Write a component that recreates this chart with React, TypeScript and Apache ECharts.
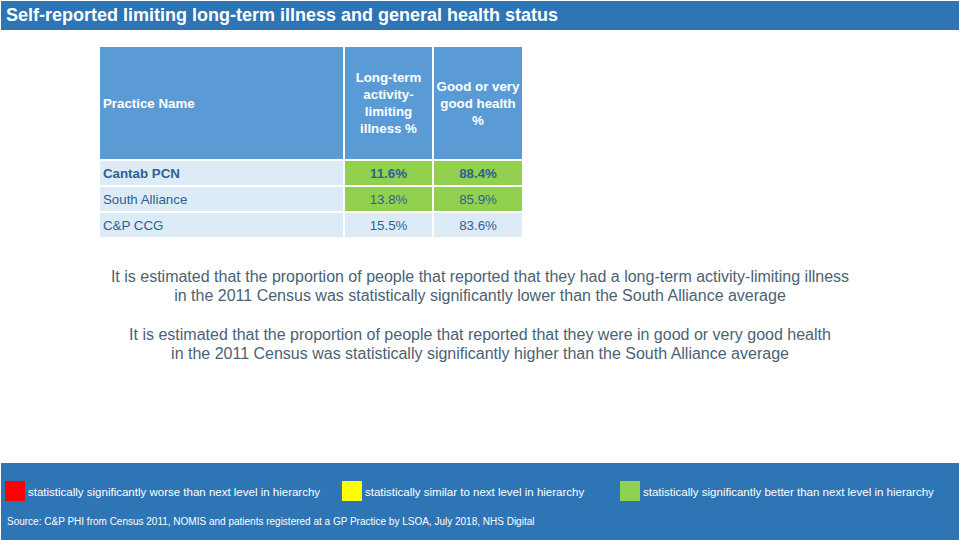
import React, { useEffect, useRef } from "react";
import * as echarts from "echarts";

const titleText = "Self-reported limiting long-term illness and general health status";
const headers = ["Practice Name", "Long-term\nactivity-\nlimiting\nillness %", "Good or very\ngood health\n%"];
const practices = ["Cantab PCN", "South Alliance", "C&P CCG"];
const illnessPct = [11.6, 13.8, 15.5];
const goodHealthPct = [88.4, 85.9, 83.6];
const illnessSig = ["better", "better", "none"];
const goodHealthSig = ["better", "better", "none"];
const paragraphs = [
  "It is estimated that the proportion of people that reported that they had a long-term activity-limiting illness\nin the 2011 Census was statistically significantly lower than the South Alliance average",
  "It is estimated that the proportion of people that reported that they were in good or very good health\nin the 2011 Census was statistically significantly higher than the South Alliance average",
];
const legendItems = [
  { label: "statistically significantly worse than next level in hierarchy", color: "#FF0000" },
  { label: "statistically similar to next level in hierarchy", color: "#FFFF00" },
  { label: "statistically significantly better than next level in hierarchy", color: "#92D050" },
];
const sourceText = "Source: C&P PHI from Census 2011, NOMIS and patients registered at a GP Practice by LSOA, July 2018, NHS Digital";

const sigColors: Record<string, string> = { better: "#92D050", similar: "#FFFF00", worse: "#FF0000", none: "#DDEBF7" };

// layout of table in axis units
const colEdges = [0, 245, 334, 424];
const rowEdges = [0, 114, 140, 166, 192];

const FONT = "Arial, 'Liberation Sans', sans-serif";

export default function App() {
  const ref = useRef<HTMLDivElement>(null);
  useEffect(() => {
    if (!ref.current) return;
    const chart = echarts.init(ref.current, null, { renderer: "svg" });

    const cells: any[] = [];
    headers.forEach((h, c) => cells.push([c, 0, h, "#5B9BD5", "header"]));
    practices.forEach((p, i) => {
      cells.push([0, i + 1, p, "#DDEBF7", i === 0 ? "nameBold" : "name"]);
      cells.push([1, i + 1, illnessPct[i].toFixed(1) + "%", sigColors[illnessSig[i]], i === 0 ? "valBold" : "val"]);
      cells.push([2, i + 1, goodHealthPct[i].toFixed(1) + "%", sigColors[goodHealthSig[i]], i === 0 ? "valBold" : "val"]);
    });

    const renderItem = (params: any, api: any) => {
      const d = cells[params.dataIndex];
      const c = d[0], r = d[1];
      const gap = 2;
      const tl = api.coord([colEdges[c], rowEdges[r]]);
      const br = api.coord([colEdges[c + 1] - gap, rowEdges[r + 1] - gap]);
      const w = br[0] - tl[0];
      const h = br[1] - tl[1];
      const kind = d[4];
      const isHeader = kind === "header";
      const leftAlign = c === 0;
      const textColor = isHeader ? "#FFFFFF" : "#2F6090";
      const bold = isHeader || kind === "nameBold" || kind === "valBold";
      return {
        type: "group",
        children: [
          { type: "rect", shape: { x: tl[0], y: tl[1], width: w, height: h }, style: { fill: d[3] } },
          {
            type: "text",
            style: {
              text: d[2],
              x: leftAlign ? tl[0] + 3 : tl[0] + w / 2,
              y: tl[1] + h / 2,
              align: leftAlign ? "left" : "center",
              verticalAlign: "middle",
              fill: textColor,
              fontFamily: FONT,
              fontSize: 13.3,
              fontWeight: bold ? "bold" : "normal",
              lineHeight: 17,
            },
          },
        ],
      };
    };

    const graphics: any[] = [
      { type: "rect", shape: { x: 1, y: 1, width: 958, height: 29 }, style: { fill: "#2E75B6" } },
      {
        type: "text",
        style: {
          text: titleText, x: 6, y: 15, verticalAlign: "middle", fill: "#FFFFFF",
          fontFamily: FONT, fontSize: 18, fontWeight: "bold",
        },
      },
      { type: "rect", shape: { x: 1, y: 463, width: 958, height: 77 }, style: { fill: "#2E75B6" } },
      {
        type: "text",
        style: {
          text: sourceText, x: 7, y: 521, verticalAlign: "middle", fill: "#FFFFFF",
          fontFamily: FONT, fontSize: 10,
        },
      },
    ];
    const parY = [285.5, 343.5];
    paragraphs.forEach((p, i) => {
      graphics.push({
        type: "text",
        style: {
          text: p, x: 480, y: parY[i], align: "center", verticalAlign: "middle", fill: "#4B6274",
          fontFamily: FONT, fontSize: 16, lineHeight: 19,
        },
      });
    });
    const legX = [5, 342, 620];
    legendItems.forEach((it, i) => {
      graphics.push({ type: "rect", shape: { x: legX[i], y: 481, width: 20, height: 20 }, style: { fill: it.color } });
      graphics.push({
        type: "text",
        style: {
          text: it.label, x: legX[i] + 23, y: 492, verticalAlign: "middle", fill: "#FFFFFF",
          fontFamily: FONT, fontSize: 11.5,
        },
      });
    });

    chart.setOption({
      animation: false,
      backgroundColor: "#FFFFFF",
      grid: { left: 100, top: 47, width: 424, height: 192 },
      xAxis: { type: "value", min: 0, max: 424, show: false },
      yAxis: { type: "value", min: 0, max: 192, inverse: true, show: false },
      graphic: graphics,
      series: [
        {
          type: "custom",
          renderItem,
          data: cells.map((d) => [d[0], d[1]]),
          clip: false,
        },
      ],
    });
    return () => chart.dispose();
  }, []);
  return <div ref={ref} style={{ position: "fixed", left: 0, top: 0, width: 960, height: 540 }} />;
}
